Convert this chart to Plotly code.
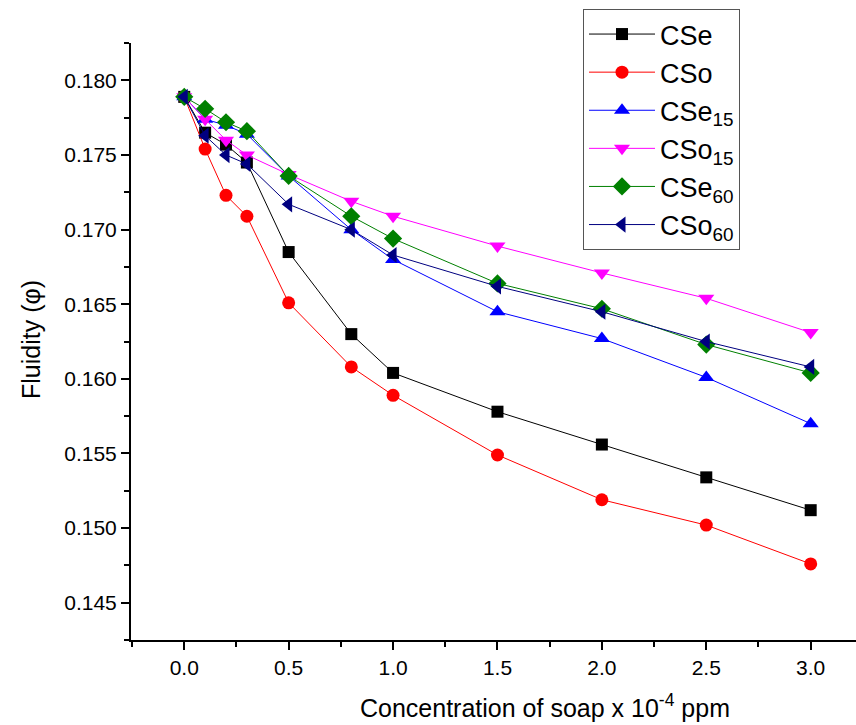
import plotly.graph_objects as go

# Soap concentration (x 10^-4 ppm)
conc = [0.0, 0.1, 0.2, 0.3, 0.5, 0.8, 1.0, 1.5, 2.0, 2.5, 3.0]

# Fluidity values for each system
cse = [0.1789, 0.1765, 0.1757, 0.1745, 0.1685, 0.1630, 0.1604, 0.1578, 0.1556, 0.1534, 0.1512]
cso = [0.1789, 0.1754, 0.1723, 0.1709, 0.1651, 0.1608, 0.1589, 0.1549, 0.1519, 0.1502, 0.1476]
cse15 = [0.1789, 0.1774, 0.1770, 0.1764, 0.1736, 0.1700, 0.1680, 0.1645, 0.1627, 0.1601, 0.1570]
cso15 = [0.1789, 0.1774, 0.1760, 0.1750, 0.1737, 0.1719, 0.1709, 0.1689, 0.1671, 0.1654, 0.1631]
cse60 = [0.1789, 0.1781, 0.1772, 0.1766, 0.1736, 0.1709, 0.1694, 0.1664, 0.1647, 0.1623, 0.1604]
cso60 = [0.1789, 0.1763, 0.1750, 0.1744, 0.1717, 0.1700, 0.1683, 0.1662, 0.1645, 0.1625, 0.1608]

series = [
    ("CSe", cse, "#000000", "square", 12),
    ("CSo", cso, "#FF0000", "circle", 13),
    ("CSe<sub>15</sub>", cse15, "#0000FF", "triangle-up", 14),
    ("CSo<sub>15</sub>", cso15, "#FF00FF", "triangle-down", 14),
    ("CSe<sub>60</sub>", cse60, "#008000", "diamond", 14),
    ("CSo<sub>60</sub>", cso60, "#000080", "triangle-left", 14),
]

font_family = "Arial, Liberation Sans, sans-serif"

W, H = 856, 725
ML, MR, MT, MB = 131, 0, 43, 85
PW, PH = W - ML - MR, H - MT - MB


def px_x(px):
    """Pixel column -> paper x."""
    return (px - ML) / PW


def px_y(py):
    """Pixel row (from top) -> paper y."""
    return (H - MB - py) / PH


fig = go.Figure()
for name, vals, color, symbol, size in series:
    fig.add_trace(go.Scatter(
        x=conc, y=vals, name=name, mode="lines+markers",
        line=dict(color=color, width=1),
        marker=dict(symbol=symbol, size=size, color=color, line=dict(width=0)),
    ))

fig.update_layout(
    width=W, height=H,
    margin=dict(l=ML, r=MR, t=MT, b=MB, autoexpand=False),
    paper_bgcolor="white", plot_bgcolor="white",
    font=dict(family=font_family, color="black"),
    showlegend=True,
    legend=dict(
        x=px_x(583), y=px_y(9), xanchor="left", yanchor="top",
        bordercolor="#555555", borderwidth=1, bgcolor="white",
        font=dict(size=27, family=font_family, color="black"),
        itemwidth=66, tracegroupgap=0,
    ),
    xaxis=dict(
        range=[-0.255, 3.217], tickvals=[0, 0.5, 1, 1.5, 2, 2.5, 3], tickformat=".1f",
        showline=True, linecolor="black", linewidth=2,
        ticks="outside", ticklen=8, tickwidth=1.5, tickcolor="black",
        minor=dict(dtick=0.25, ticks="outside", ticklen=5, tickwidth=1.5, tickcolor="black"),
        showgrid=False, zeroline=False,
        tickfont=dict(size=21, family=font_family),
    ),
    yaxis=dict(
        range=[0.1425, 0.18251], dtick=0.005, tick0=0.145, tickformat=".3f",
        showline=True, linecolor="black", linewidth=2,
        ticks="outside", ticklen=8, tickwidth=1.5, tickcolor="black",
        minor=dict(dtick=0.0025, ticks="outside", ticklen=5, tickwidth=1.5, tickcolor="black"),
        showgrid=False, zeroline=False,
        tickfont=dict(size=21, family=font_family),
    ),
    annotations=[
        dict(text="Fluidity (\u03c6)", xref="paper", yref="paper",
             x=px_x(31), y=px_y(340), xanchor="center", yanchor="middle", textangle=-90,
             showarrow=False, font=dict(size=25, family=font_family)),
        dict(text="Concentration of soap x 10<sup>-4</sup> ppm", xref="paper", yref="paper",
             x=px_x(545), y=px_y(706), xanchor="center", yanchor="middle",
             showarrow=False, font=dict(size=25, family=font_family)),
    ],
)

fig.write_html("out.html")
